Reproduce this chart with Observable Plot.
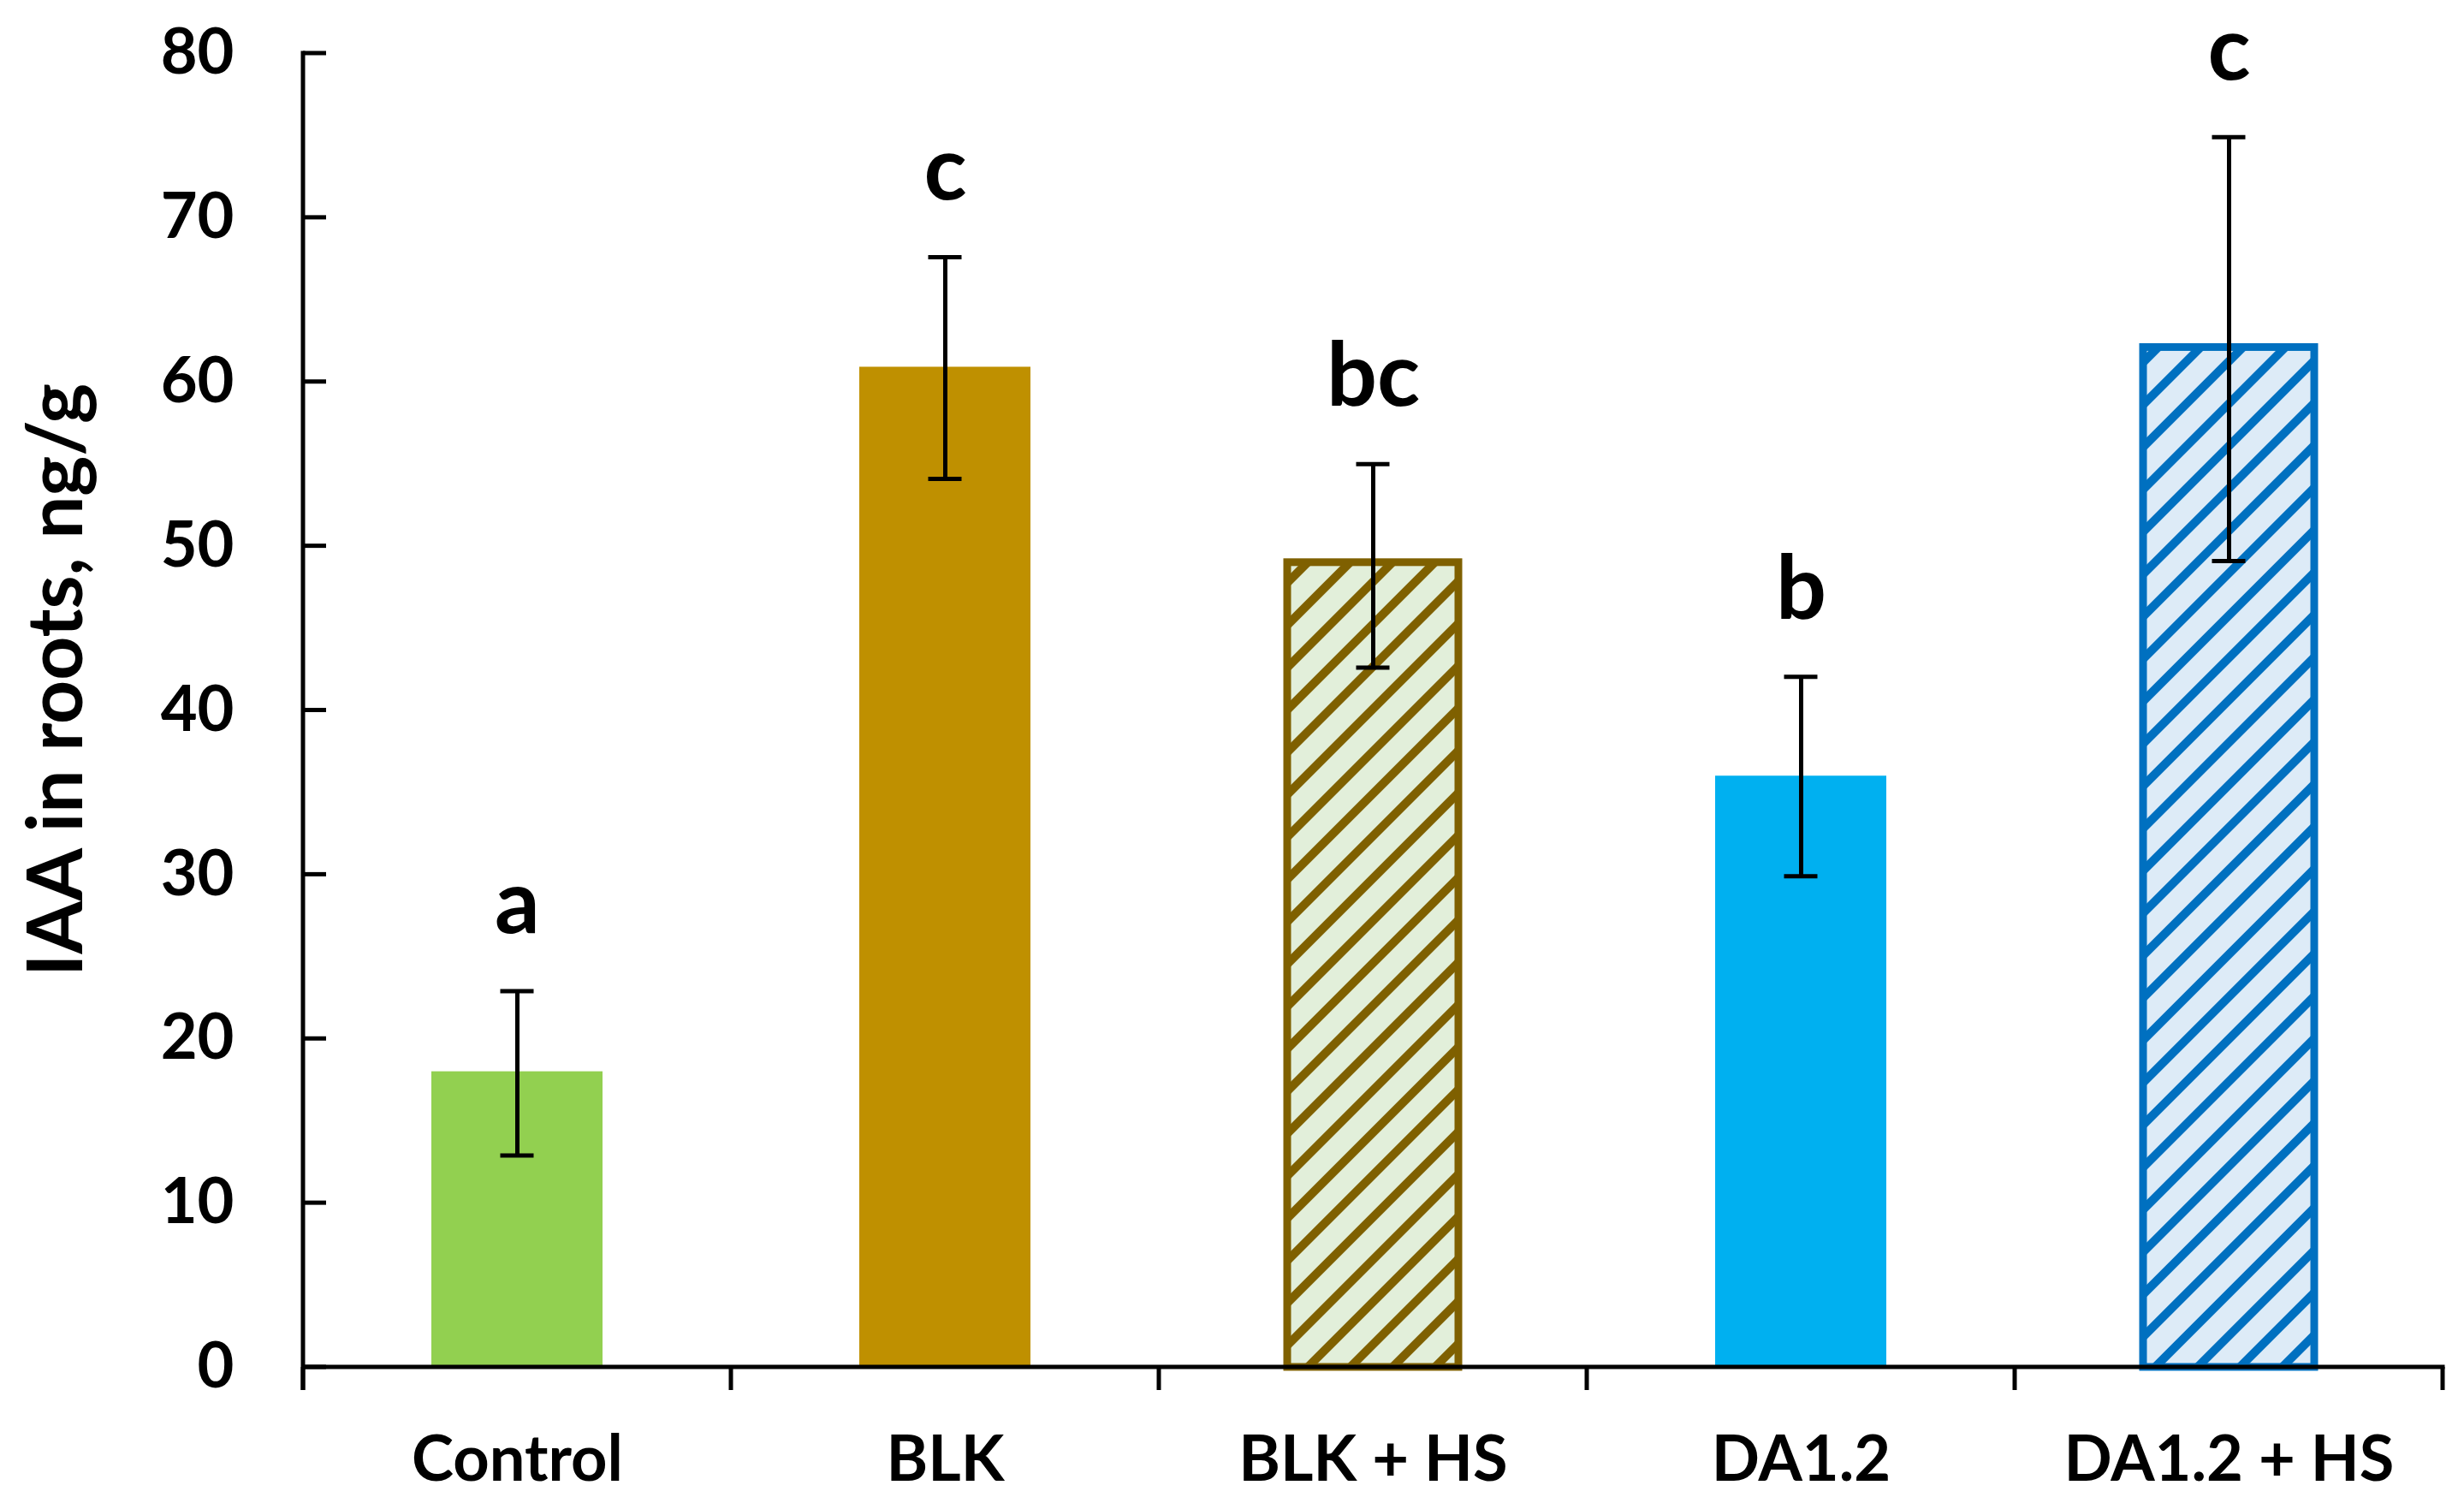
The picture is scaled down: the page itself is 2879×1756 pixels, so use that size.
<!DOCTYPE html>
<html>
<head>
<meta charset="utf-8">
<script src="https://cdn.jsdelivr.net/npm/d3@7"></script>
<script src="https://cdn.jsdelivr.net/npm/@observablehq/plot@0.6"></script>
<style>
  html, body { margin: 0; padding: 0; background: #fff; overflow: hidden; }
</style>
</head>
<body>
<div id="chart"></div>
<script>
// ---- data ----
const categories = ["Control", "BLK", "BLK + HS", "DA1.2", "DA1.2 + HS"];
const means      = [18.0, 60.9, 49.0, 36.0, 62.1];
const errLow     = [12.9, 54.1, 42.6, 29.9, 49.1];
const errHigh    = [22.9, 67.6, 55.0, 42.05, 74.9];
const letters    = ["a", "c", "bc", "b", "c"];
const yTicks     = [0, 10, 20, 30, 40, 50, 60, 70, 80];
const yLabel     = "IAA in roots, ng/g";

const data = categories.map((c, i) => ({
  cat: c, mean: means[i], lo: errLow[i], hi: errHigh[i], letter: letters[i]
}));

// ---- styles ----
const fillStyle = {
  "Control": "#92D050",
  "BLK": "#BF9000",
  "BLK + HS": "url(#hatchBLK)",
  "DA1.2": "#00B0F0",
  "DA1.2 + HS": "url(#hatchDA)"
};
const strokeStyle = {
  "Control": "none",
  "BLK": "none",
  "BLK + HS": "#7F6000",
  "DA1.2": "none",
  "DA1.2 + HS": "#0070C0"
};
const FONT = "Lato, 'Open Sans', sans-serif";

// axis lines, inward y ticks, category-boundary x ticks
function axisDecor(index, scales, values, dims) {
  const x = scales.x, y = scales.y;
  const bw = typeof x.bandwidth === "function" ? x.bandwidth() : x.bandwidth;
  const xs = categories.map(c => x(c));
  const step = xs[1] - xs[0];
  const gap = step - bw;
  const bounds = xs.map(v => v - gap / 2);
  bounds.push(xs[xs.length - 1] + bw + gap / 2);
  const y0 = y(0), yTop = y(yTicks[yTicks.length - 1]);
  const left = bounds[0], right = bounds[bounds.length - 1];
  const tickLen = 27;
  const g = d3.create("svg:g")
    .attr("stroke", "#000").attr("stroke-width", 5).attr("fill", "none");
  g.append("line").attr("x1", left).attr("x2", left)
    .attr("y1", yTop - 2.5).attr("y2", y0 + tickLen);
  for (const t of yTicks) {
    g.append("line").attr("x1", left).attr("x2", left + tickLen)
      .attr("y1", y(t)).attr("y2", y(t));
  }
  g.append("line").attr("x1", left).attr("x2", right + 2.5)
    .attr("y1", y0).attr("y2", y0);
  for (const b of bounds) {
    g.append("line").attr("x1", b).attr("x2", b)
      .attr("y1", y0).attr("y2", y0 + tickLen);
  }
  return g.node();
}

// rotated y-axis title
function yTitle(index, scales, values, dims) {
  const cy = (dims.marginTop + dims.height - dims.marginBottom) / 2 - 35;
  return d3.create("svg:text")
    .attr("transform", `translate(96,${cy}) rotate(-90)`)
    .attr("text-anchor", "middle")
    .attr("font-family", FONT)
    .attr("font-weight", "bold")
    .attr("font-size", 89)
    .attr("fill", "#000")
    .text(yLabel)
    .node();
}

const chart = Plot.plot({
  width: 2879,
  height: 1756,
  marginLeft: 352,
  marginRight: 24,
  marginTop: 62,
  marginBottom: 159,
  style: { fontFamily: FONT, fontWeight: "bold", color: "#000", background: "#fff" },
  x: { domain: categories, paddingInner: 0.6, paddingOuter: 0.3, axis: null },
  y: { domain: [0, 80], axis: null },
  color: { type: "identity" },
  marks: [
    Plot.barY(data, {
      x: "cat", y: "mean",
      fill: d => fillStyle[d.cat],
      stroke: d => strokeStyle[d.cat],
      strokeWidth: 9
    }),
    axisDecor,
    Plot.ruleX(data, { x: "cat", y1: "lo", y2: "hi", stroke: "#000", strokeWidth: 5 }),
    Plot.tickY(data, { x: "cat", y: "lo", stroke: "#000", strokeWidth: 5, inset: 80.5 }),
    Plot.tickY(data, { x: "cat", y: "hi", stroke: "#000", strokeWidth: 5, inset: 80.5 }),
    Plot.text(data, {
      x: "cat", y: "hi", text: "letter", dy: -101,
      fontSize: 104, fontWeight: "bold", lineAnchor: "middle", fill: "#000"
    }),
    Plot.axisY({ ticks: yTicks, tickSize: 0, tickPadding: 79, fontSize: 74, fontWeight: "bold", label: null }),
    Plot.axisX({ tickSize: 0, tickPadding: 80, fontSize: 74, fontWeight: "bold", label: null }),
    yTitle
  ]
});

// hatch pattern definitions
const svgSel = d3.select(chart);
const defs = svgSel.insert("defs", ":first-child");
function addHatch(id, bg, fg) {
  const p = defs.append("pattern")
    .attr("id", id)
    .attr("patternUnits", "userSpaceOnUse")
    .attr("width", 35).attr("height", 35)
    .attr("patternTransform", "rotate(45)");
  p.append("rect").attr("width", 35).attr("height", 35).attr("fill", bg);
  p.append("rect").attr("width", 10).attr("height", 35).attr("fill", fg);
}
addHatch("hatchBLK", "#E2EFDA", "#7F6000");
addHatch("hatchDA", "#DDEBF7", "#0070C0");

document.getElementById("chart").appendChild(chart);
</script>
</body>
</html>
